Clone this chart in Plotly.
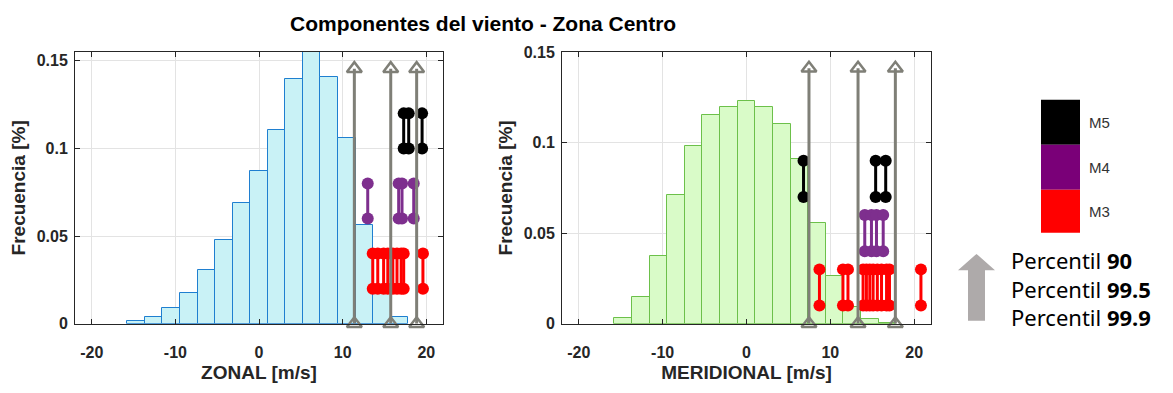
import plotly.graph_objects as go

# ---------------- data ----------------
BIN_WIDTH = 2.1
bin_centers = [k * 2.1 for k in range(-7, 9)]

zonal_freq = [0.0016, 0.004, 0.0089, 0.0176, 0.0304, 0.0478, 0.069, 0.087,
              0.1105, 0.1395, 0.158, 0.141, 0.106, 0.0565, 0.017, 0.004]
meridional_freq = [0.003, 0.0145, 0.0372, 0.0711, 0.098, 0.1153, 0.1197, 0.1231,
                   0.1194, 0.1102, 0.0908, 0.0556, 0.0266, 0.009, 0.0025, 0.0004]

# percentiles 90 / 99.5 / 99.9
zonal_pct = [11.4, 15.75, 18.85]
meridional_pct = [7.45, 13.3, 17.75]
zonal_pct_top = 0.1455
meridional_pct_top = 0.141

# extreme values per model (x position), drawn as ranges in y
zonal_m5 = [17.3, 17.9, 19.5]
zonal_m4 = [13.0, 16.7, 17.1, 18.5]
zonal_m3 = [13.6, 14.2, 14.9, 15.4, 16.0, 16.5, 17.0, 17.3, 19.6]
zonal_m5_y = [0.10, 0.12]
zonal_m4_y = [0.06, 0.08]
zonal_m3_y = [0.02, 0.04]

meridional_m5 = [6.8, 15.4, 16.6]
meridional_m4 = [14.1, 14.9, 15.5, 16.3]
meridional_m3 = [8.7, 11.5, 12.1, 13.9, 14.3, 14.7, 15.1, 15.6, 16.1, 16.7, 17.05, 20.8]
meridional_m5_y = [0.07, 0.09]
meridional_m4_y = [0.04, 0.06]
meridional_m3_y = [0.01, 0.03]

x_ticks = [-20, -10, 0, 10, 20]
y_ticks = [0, 0.05, 0.1, 0.15]
y_tick_text = ["0", "0.05", "0.1", "0.15"]

legend_labels = ["M5", "M4", "M3"]
legend_colors = ["#000000", "#7a0078", "#ff0000"]
pct_labels = ["90", "99.5", "99.9"]

# ---------------- styles ----------------
W, H = 1173, 393
GREY = "#7f7f77"
PURPLE = "#7e2f8e"
FONT = "Liberation Sans, Arial, sans-serif"
AX_COL = "#262626"


def fx(p):
    return p / W


def fy(p):
    return 1 - p / H


def bold(s):
    return "<b>{}</b>".format(s)


fig = go.Figure()


def dumbbells(xs, yr, color, xa, ya):
    xx, yy = [], []
    for x in xs:
        xx += [x, x, None]
        yy += [yr[0], yr[1], None]
    fig.add_trace(go.Scatter(
        x=xx, y=yy, mode="lines+markers", xaxis=xa, yaxis=ya,
        line=dict(color=color, width=3),
        marker=dict(symbol="circle", size=12, color=color),
        cliponaxis=False, showlegend=False, hoverinfo="skip"))


def percentiles(xs, top, xa, ya):
    xx, yy = [], []
    for x in xs:
        xx += [x, x, None]
        yy += [0, top, None]
    fig.add_trace(go.Scatter(
        x=xx, y=yy, mode="lines+markers", xaxis=xa, yaxis=ya,
        line=dict(color=GREY, width=3),
        marker=dict(symbol="triangle-up-open", size=13,
                    color=GREY, line=dict(color=GREY, width=2.5)),
        cliponaxis=False, showlegend=False, hoverinfo="skip"))


# histograms
fig.add_trace(go.Bar(x=bin_centers, y=zonal_freq, width=BIN_WIDTH,
                     marker=dict(color="#c9f2f6", line=dict(color="#1f7fd0", width=1)),
                     xaxis="x", yaxis="y", showlegend=False))
fig.add_trace(go.Bar(x=bin_centers, y=meridional_freq, width=BIN_WIDTH,
                     marker=dict(color="#d9fbc8", line=dict(color="#6cc04a", width=1)),
                     xaxis="x2", yaxis="y2", showlegend=False))

dumbbells(zonal_m5, zonal_m5_y, "#000000", "x", "y")
dumbbells(zonal_m4, zonal_m4_y, PURPLE, "x", "y")
dumbbells(zonal_m3, zonal_m3_y, "#ff0000", "x", "y")
dumbbells(meridional_m5, meridional_m5_y, "#000000", "x2", "y2")
dumbbells(meridional_m4, meridional_m4_y, PURPLE, "x2", "y2")
dumbbells(meridional_m3, meridional_m3_y, "#ff0000", "x2", "y2")

percentiles(zonal_pct, zonal_pct_top, "x", "y")
percentiles(meridional_pct, meridional_pct_top, "x2", "y2")

axis_common = dict(
    showline=True, linecolor=AX_COL, linewidth=1, mirror="ticks",
    ticks="inside", ticklen=5, tickcolor=AX_COL,
    showgrid=True, gridcolor="#e3e3e3", gridwidth=1, zeroline=False,
    tickfont=dict(family=FONT, size=16, color=AX_COL),
)
title_font = dict(family=FONT, size=19, color=AX_COL)
x_tick_text = [bold(v) for v in x_ticks]
y_tick_bold = [bold(v) for v in y_tick_text]

ydom = [fy(330), fy(46)]
fig.update_layout(
    width=W, height=H, margin=dict(l=0, r=0, t=0, b=0),
    paper_bgcolor="white", plot_bgcolor="white", bargap=0,
    font=dict(family=FONT),
    xaxis=dict(domain=[fx(75), fx(443)], range=[-22, 22],
               tickvals=x_ticks, ticktext=x_tick_text, ticklabelstandoff=14,
               title=dict(text=bold("ZONAL [m/s]"), standoff=5, font=title_font),
               anchor="y", **axis_common),
    yaxis=dict(domain=ydom, range=[0, 0.155],
               tickvals=y_ticks, ticktext=y_tick_bold, ticklabelstandoff=3,
               title=dict(text=bold("Frecuencia [%]"), standoff=6, font=title_font),
               anchor="x", **axis_common),
    xaxis2=dict(domain=[fx(562), fx(931)], range=[-22, 22],
                tickvals=x_ticks, ticktext=x_tick_text, ticklabelstandoff=14,
                title=dict(text=bold("MERIDIONAL [m/s]"), standoff=5, font=title_font),
                anchor="y2", **axis_common),
    yaxis2=dict(domain=ydom, range=[0, 0.15],
                tickvals=y_ticks, ticktext=y_tick_bold, ticklabelstandoff=3,
                title=dict(text=bold("Frecuencia [%]"), standoff=6, font=title_font),
                anchor="x2", **axis_common),
)

annotations = [dict(
    text=bold("Componentes del viento - Zona Centro"), xref="paper", yref="paper",
    x=fx(483), y=fy(16), xanchor="center", yanchor="middle", showarrow=False,
    font=dict(family=FONT, size=21, color="#000000"))]

shapes = []
# model colour key
block_top = [96, 143, 190]
block_bot = [143, 190, 235]
for lab, col, t, b in zip(legend_labels, legend_colors, block_top, block_bot):
    shapes.append(dict(type="rect", xref="paper", yref="paper",
                       x0=fx(1041), x1=fx(1080), y0=fy(b), y1=fy(t),
                       fillcolor=col, line=dict(width=0)))
    annotations.append(dict(text=lab, xref="paper", yref="paper",
                            x=fx(1087), y=fy((t + b) / 2), xanchor="left", yanchor="middle",
                            showarrow=False, font=dict(family=FONT, size=15, color="#333333")))

# percentile arrow
shapes.append(dict(type="path", xref="paper", yref="paper",
                   path=("M {} {} L {} {} L {} {} L {} {} L {} {} L {} {} L {} {} Z".format(
                       fx(976.5), fy(257), fx(995), fy(274), fx(985), fy(274),
                       fx(985), fy(327), fx(968), fy(327), fx(968), fy(274),
                       fx(958), fy(274))),
                   fillcolor="#aeaaaa", line=dict(width=0)))
pct_text = "<br>".join("Percentil <b>{}</b>".format(lab) for lab in pct_labels)
annotations.append(dict(text=pct_text, xref="paper", yref="paper",
                        x=fx(1009), y=fy(293), xanchor="left", yanchor="middle", align="left",
                        showarrow=False, font=dict(family="Noto Sans, sans-serif",
                                                   size=22, color="#000000")))

fig.update_layout(annotations=annotations, shapes=shapes)
fig.write_html("out.html")
